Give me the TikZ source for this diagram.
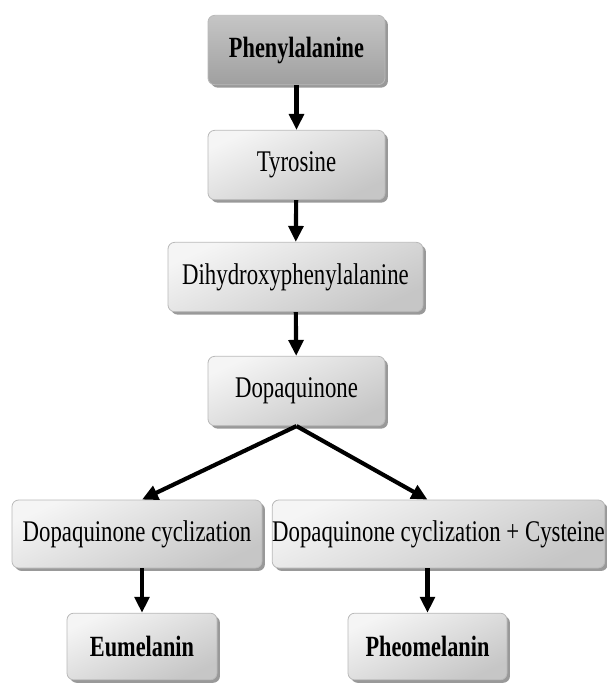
\documentclass[tikz,border=0pt]{standalone}
\usepackage{fontspec}
\setmainfont[FakeStretch=0.76]{Liberation Serif}
\usetikzlibrary{arrows.meta,shadows}
\begin{document}
\begin{tikzpicture}[x=0.75pt,y=-0.75pt,
  stepbox/.style={draw=gray!55, line width=0.6pt, rounded corners=5pt,
    top color=gray!8, bottom color=gray!45, shading angle=25,
    drop shadow={shadow xshift=2.2pt, shadow yshift=-2.2pt, fill=gray!80, opacity=1},
    minimum height=52pt, inner sep=0pt, font=\fontsize{22.5}{24}\selectfont},
  darkbox/.style={stepbox, top color=gray!45, bottom color=gray!75,
    font=\fontsize{22}{24}\selectfont\bfseries},
  endbox/.style={stepbox, minimum height=50pt, font=\fontsize{22}{24}\selectfont\bfseries},
  flow/.style={-{Triangle[length=12pt,width=11pt]}, line width=3.1pt, black}]
\useasboundingbox (0,0) rectangle (607,683);
% pathway nodes
\node[darkbox, minimum width=132.75pt] (phe) at (296.5,50) {Phenylalanine};
\node[stepbox, minimum width=132.75pt] (tyr) at (296.5,165) {Tyrosine};
\node[stepbox, minimum width=191.25pt] (dopa) at (295.5,277) {Dihydroxyphenylalanine};
\node[stepbox, minimum width=132.75pt] (dq) at (296.5,391) {Dopaquinone};
\node[stepbox, minimum width=187.5pt, minimum height=51pt] (cyc) at (137,534) {Dopaquinone cyclization};
\node[stepbox, minimum width=249pt, minimum height=51pt] (cys) at (438.5,534) {Dopaquinone cyclization + Cysteine};
\node[endbox, minimum width=112.5pt] (eu) at (142,646.5) {Eumelanin};
\node[endbox, minimum width=119.25pt] (pheo) at (427.5,646.5) {Pheomelanin};
% connectors
\draw[flow] (phe) -- (tyr);
\draw[flow] (tyr) -- (dopa);
\draw[flow] (dopa) -- (dq);
\draw[flow] (dq.south) -- (cyc.north -| eu.north);
\draw[flow] (dq.south) -- (cys.north -| pheo.north);
\draw[flow] (cyc.south -| eu.north) -- (eu);
\draw[flow] (cys.south -| pheo.north) -- (pheo);
\end{tikzpicture}
\end{document}
